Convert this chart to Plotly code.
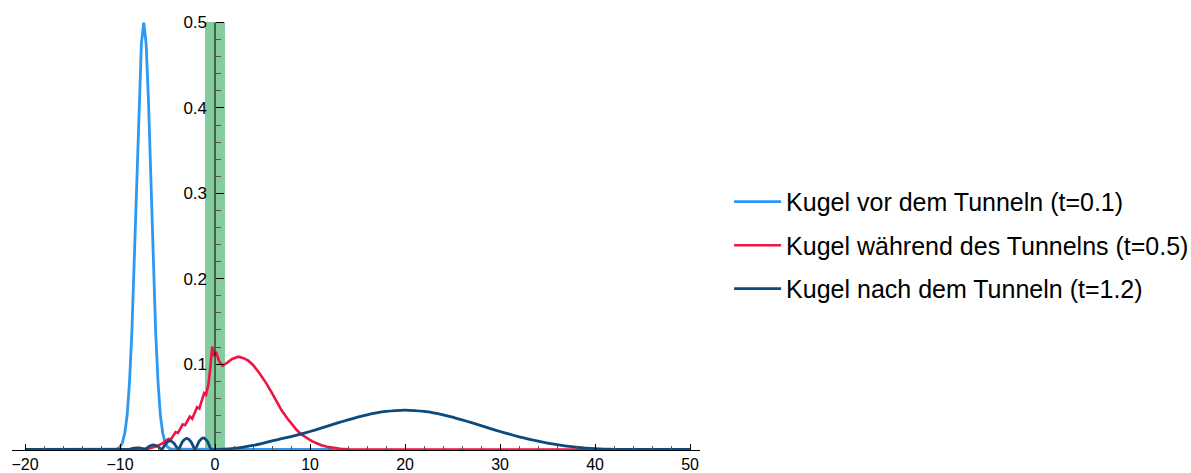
import plotly.graph_objects as go

# Probability density |psi|^2 of the wave packet at three moments
x_before = [-20, -11, -10.5, -10.25, -10.0, -9.75, -9.5, -9.25, -9.0, -8.75, -8.5,
            -8.25, -8.0, -7.75, -7.5, -7.25, -7.0, -6.75, -6.5, -6.25, -6.0,
            -5.75, -5.5, -5.25, -5.0, -4.75, -4.5, 13.7]
y_before = [0, 0, 0.0003, 0.001, 0.0029, 0.0078, 0.019, 0.040, 0.079, 0.138, 0.220,
            0.315, 0.407, 0.475, 0.500, 0.475, 0.407, 0.315, 0.220, 0.138, 0.079,
            0.040, 0.019, 0.0078, 0.0029, 0.001, 0.0003, 0]

x_during = [-10, -8, -7, -6.5, -6.0, -5.5, -5.2, -4.9, -4.65, -4.4, -4.15, -3.9,
            -3.65, -3.4, -3.15, -2.9, -2.65, -2.4, -2.15, -1.9, -1.65, -1.4, -1.15,
            -0.95, -0.7, -0.5, -0.3, -0.1, 0.15, 0.45, 0.8, 1.2, 1.8, 2.45, 3.0,
            3.5, 4.0, 4.7, 5.4, 6.0, 6.5, 7.0, 7.6, 8.1, 8.6, 9.1, 9.65, 10.2,
            10.7, 11.2, 11.8, 12.5, 13.2, 14, 15, 45]
y_during = [0, 0.0003, 0.001, 0.0025, 0.0045, 0.0075, 0.0095, 0.0125, 0.0118, 0.016,
            0.0205, 0.0195, 0.025, 0.0295, 0.0285, 0.033, 0.0385, 0.036, 0.043,
            0.0495, 0.048, 0.057, 0.066, 0.064, 0.076, 0.095, 0.1205, 0.111, 0.113,
            0.103, 0.098, 0.101, 0.106, 0.1087, 0.107, 0.104, 0.099, 0.089, 0.0775,
            0.066, 0.056, 0.046, 0.0365, 0.029, 0.0228, 0.0175, 0.0131, 0.0097,
            0.0073, 0.005, 0.0033, 0.0018, 0.0008, 0.0002, 0, 0]

x_after = [-20, -10, -9.1, -8.65, -8.2, -7.75, -7.35, -6.92, -6.49, -6.05, -5.6,
           -5.17, -4.74, -4.3, -3.86, -3.42, -2.98, -2.54, -2.1, -1.67, -1.23, -0.8,
           -0.4, 0.3, 1, 2, 3, 4, 5, 6, 7, 8, 9, 10, 11, 12, 13, 14, 15, 16, 17,
           18, 19, 20, 21, 22, 23, 24, 25, 26, 27, 28, 29, 30, 31, 32, 33, 34, 35,
           36, 37, 38, 39, 40, 41, 42, 43, 50]
y_after = [0, 0, 0.0001, 0.0013, 0.0018, 0.0013, 0.0001, 0.0039, 0.0055, 0.0039,
           0.0001, 0.0071, 0.0100, 0.0071, 0.0001, 0.0092, 0.0130, 0.0092, 0.0001,
           0.0095, 0.0135, 0.0095, 0.0002, 0.0002, 0.0004, 0.0013, 0.0028, 0.0047,
           0.0072, 0.0100, 0.0127, 0.0152, 0.0180, 0.0211, 0.0244, 0.0279, 0.0314,
           0.0347, 0.0378, 0.0406, 0.0429, 0.0446, 0.0456, 0.0460, 0.0456, 0.0446,
           0.0429, 0.0406, 0.0378, 0.0347, 0.0314, 0.0279, 0.0244, 0.0211, 0.0179,
           0.0149, 0.0122, 0.0097, 0.0075, 0.0056, 0.0040, 0.0027, 0.0017, 0.0010,
           0.0005, 0.0002, 0, 0]

series_names = ["Kugel vor dem Tunneln (t=0.1)",
                "Kugel während des Tunnelns (t=0.5)",
                "Kugel nach dem Tunneln (t=1.2)"]

# Potential barrier
barrier_left, barrier_right, barrier_height = -1.0, 1.0, 0.5

x_ticks = [-20, -10, 0, 10, 20, 30, 40, 50]
y_ticks = [0.1, 0.2, 0.3, 0.4, 0.5]

FONT = "Liberation Sans, Arial, sans-serif"
BLUE = "#2B99F4"
RED = "#EE1443"
NAVY = "#0B4A7C"
GREEN = "#84CB9E"

x_range = [-21.37, 51.05]
y_range = [-0.00644, 0.50296]

fig = go.Figure()
fig.add_trace(go.Scatter(x=x_before, y=y_before, mode="lines", name=series_names[0],
                         legendgroup="a",
                         line=dict(color=BLUE, width=2.8)))
fig.add_trace(go.Scatter(x=x_during, y=y_during, mode="lines", name=series_names[1],
                         legendgroup="b",
                         line=dict(color=RED, width=2.6)))
fig.add_trace(go.Scatter(x=x_after, y=y_after, mode="lines", name=series_names[2],
                         legendgroup="c",
                         line=dict(color=NAVY, width=2.8, shape="spline", smoothing=0.6)))

fig.add_shape(type="rect", xref="x", yref="y",
              x0=barrier_left, x1=barrier_right, y0=0, y1=barrier_height,
              fillcolor=GREEN, line=dict(color=GREEN, width=1), layer="below")
# vertical axis line through x = 0
fig.add_shape(type="line", xref="x", yref="y", x0=0, x1=0, y0=0, y1=max(y_ticks),
              line=dict(color="black", width=1), layer="above")

y_pos = (0 - x_range[0]) / (x_range[1] - x_range[0])
x_pos = (0 - y_range[0]) / (y_range[1] - y_range[0])

fig.update_layout(
    width=1191, height=473,
    margin=dict(l=12, r=491, t=20, b=18, autoexpand=False),
    paper_bgcolor="white", plot_bgcolor="white",
    font=dict(family=FONT, color="black"),
    showlegend=True,
    legend=dict(x=1.0423, xanchor="left", y=0.6346, yanchor="top",
                font=dict(family=FONT, size=25, color="black"),
                traceorder="grouped", tracegroupgap=8,
                bgcolor="rgba(0,0,0,0)", itemwidth=47),
    xaxis=dict(range=x_range, anchor="free", position=x_pos, automargin=False,
               showline=True, linecolor="black", linewidth=1,
               showgrid=False, zeroline=False,
               tickmode="array", tickvals=x_ticks,
               ticks="inside", ticklen=6, tickcolor="black", tickwidth=1,
               minor=dict(dtick=2, tick0=0, ticks="inside", ticklen=3.5,
                          tickcolor="#555", tickwidth=1),
               tickfont=dict(family=FONT, size=16, color="black"),
               ticklabelstandoff=0),
    yaxis=dict(range=y_range, anchor="free", position=y_pos, automargin=False,
               showline=False, showgrid=False, zeroline=False,
               tickmode="array", tickvals=y_ticks, tickformat=".1f",
               ticks="inside", ticklen=8, tickcolor="black", tickwidth=1,
               minor=dict(dtick=0.02, tick0=0, ticks="inside", ticklen=4.5,
                          tickcolor="#555", tickwidth=1),
               tickfont=dict(family=FONT, size=17, color="black"),
               ticklabelstandoff=8),
)

fig.write_html("out.html")
